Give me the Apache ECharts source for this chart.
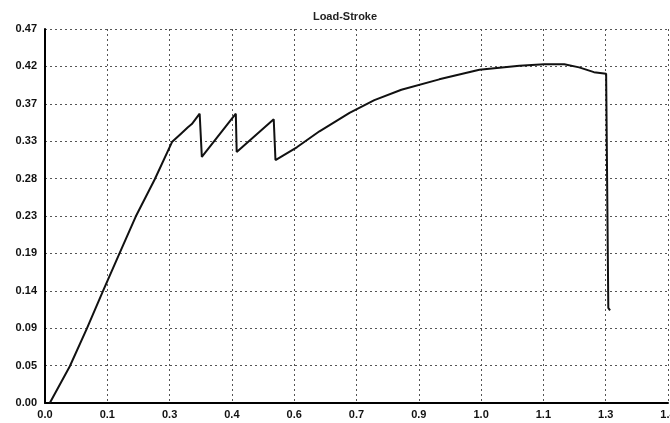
<!DOCTYPE html>
<html>
<head>
<meta charset="utf-8">
<script src="https://cdn.jsdelivr.net/npm/echarts@6/dist/echarts.min.js"></script>
<style>html,body{margin:0;padding:0;background:#fff;}#c{width:670px;height:423px;}</style>
</head>
<body>
<div id="c"></div>
<script>
const titleText = 'Load-Stroke';
const xTickLabels = ['0.0','0.1','0.3','0.4','0.6','0.7','0.9','1.0','1.1','1.3','1.4'];
const yTickLabels = ['0.00','0.05','0.09','0.14','0.19','0.23','0.28','0.33','0.37','0.42','0.47'];
const stroke = [0.011,0.057,0.096,0.133,0.170,0.208,0.252,0.292,0.314,0.328,0.337,0.355,0.360,0.438,0.440,0.525,0.529,0.578,0.630,0.699,0.756,0.818,0.905,0.997,1.089,1.146,1.192,1.226,1.260,1.288,1.290,1.293,1.297];
const load   = [0.000,0.046,0.093,0.140,0.186,0.233,0.280,0.327,0.338,0.345,0.349,0.362,0.308,0.362,0.314,0.355,0.304,0.320,0.340,0.363,0.379,0.392,0.405,0.417,0.422,0.424,0.424,0.420,0.414,0.412,0.412,0.119,0.116];

const xMax = 1.43, xStep = 0.143;
const yMax = 0.468, yStep = 0.0468;

const chart = echarts.init(document.getElementById('c'), null, {renderer:'canvas'});
const gridStyle = {color:'#555', type:[2,3], width:1};
chart.setOption({
  backgroundColor:'#ffffff',
  animation:false,
  title:{text:titleText, left:340, top:6, textAlign:'center',
    textStyle:{fontFamily:'Liberation Sans', fontSize:11, fontWeight:'bold', color:'#222'}},
  grid:{left:45, right:2, top:29, bottom:20, containLabel:false, outerBoundsMode:'none'},
  xAxis:{type:'value', min:0, max:xMax, interval:xStep,
    axisLine:{show:true, lineStyle:{color:'#000', width:2}},
    axisTick:{show:false},
    splitLine:{show:true, lineStyle:gridStyle},
    axisLabel:{margin:6, fontFamily:'Liberation Sans', fontSize:11, fontWeight:'bold', color:'#111',
      alignMinLabel:'center', alignMaxLabel:'center', hideOverlap:false,
      formatter:v=>xTickLabels[Math.round(v/xStep)] ?? ''}},
  yAxis:{type:'value', min:0, max:yMax, interval:yStep,
    axisLine:{show:true, lineStyle:{color:'#000', width:2}},
    axisTick:{show:false},
    splitLine:{show:true, lineStyle:gridStyle},
    axisLabel:{margin:8, fontFamily:'Liberation Sans', fontSize:11, fontWeight:'bold', color:'#111',
      formatter:v=>yTickLabels[Math.round(v/yStep)] ?? ''}},
  series:[{type:'line', data:stroke.map((x,i)=>[x,load[i]]), showSymbol:false, smooth:false,
    lineStyle:{color:'#111', width:2}}]
});
</script>
</body>
</html>
